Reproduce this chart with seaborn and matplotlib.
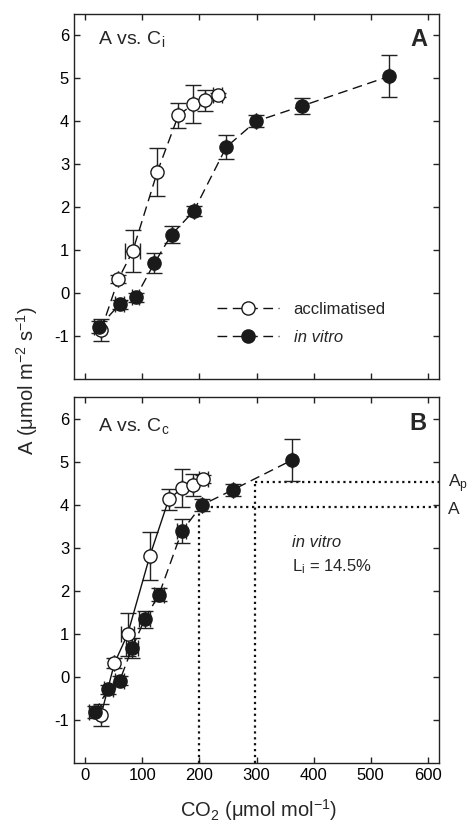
import matplotlib
matplotlib.use("Agg")
import matplotlib.pyplot as plt
import seaborn as sns
import numpy as np
import pandas as pd
from matplotlib.lines import Line2D

# ---------------- data ----------------
accl_A_x = [27.5, 58, 83, 126, 163, 189, 210, 232]
accl_A_y = [-0.86, 0.33, 0.98, 2.82, 4.14, 4.40, 4.49, 4.62]
accl_A_yerr = [0.25, 0.10, 0.49, 0.56, 0.29, 0.44, 0.24, 0.05]
accl_A_xerr = [0, 0, 13, 0, 0, 0, 0, 8]

vitro_A_x = [23, 60, 88, 121, 151, 190, 247, 299, 380, 533]
vitro_A_y = [-0.80, -0.26, -0.10, 0.70, 1.36, 1.91, 3.40, 4.00, 4.36, 5.05]
vitro_A_yerr = [0.14, 0.10, 0.10, 0.24, 0.20, 0.12, 0.28, 0.14, 0.18, 0.49]
vitro_A_xerr = [8, 8, 6, 0, 0, 0, 0, 0, 0, 0]

accl_B_x = [27.5, 51, 74, 113, 146, 170, 188, 207]
accl_B_y = [-0.88, 0.32, 0.99, 2.81, 4.12, 4.39, 4.46, 4.60]
accl_B_yerr = [0.25, 0.12, 0.50, 0.55, 0.25, 0.44, 0.25, 0.10]
accl_B_xerr = [0, 0, 12, 0, 0, 0, 0, 8]

vitro_B_x = [16, 40, 60, 82, 104, 129, 169, 204, 258, 363]
vitro_B_y = [-0.81, -0.29, -0.09, 0.67, 1.34, 1.91, 3.38, 3.99, 4.34, 5.04]
vitro_B_yerr = [0.14, 0.10, 0.10, 0.24, 0.20, 0.15, 0.28, 0.14, 0.15, 0.48]
vitro_B_xerr = [10, 8, 8, 10, 10, 8, 8, 0, 0, 0]

A_level = 3.95
Ap_level = 4.52
Cc_A = 200
Cc_Ap = 297

x_ticks = [0, 100, 200, 300, 400, 500, 600]
y_ticks = [-1, 0, 1, 2, 3, 4, 5, 6]

# ---------------- style ----------------
sns.set_style("ticks")
plt.rcParams['font.family'] = ['Liberation Sans', 'DejaVu Sans']
plt.rcParams['mathtext.fontset'] = 'custom'
plt.rcParams['mathtext.rm'] = 'Liberation Sans'
plt.rcParams['mathtext.it'] = 'Liberation Sans:italic'
plt.rcParams['mathtext.bf'] = 'Liberation Sans:bold'

fig = plt.figure(figsize=(4.71, 8.24), dpi=100)
axA = fig.add_axes([74/471, 1-379/824, 365/471, 365/824])
axB = fig.add_axes([74/471, 1-763/824, 365/471, 366/824])

DASH = (0, (7, 4))
MS = 9.5


def draw_series(ax, x, y, yerr, xerr, filled, ls, label=None):
    df = pd.DataFrame({"x": x, "y": y})
    ax.errorbar(x, y, yerr=yerr, xerr=xerr, fmt='none', ecolor='#222222',
                elinewidth=1.0, capsize=6, capthick=1.0, zorder=2)
    sns.lineplot(data=df, x="x", y="y", ax=ax, color='#111111', lw=1.0,
                 linestyle=ls, sort=False, estimator=None, zorder=3,
                 marker='o', markersize=MS,
                 markerfacecolor='#1a1a1a' if filled else 'white',
                 markeredgecolor='#1a1a1a', markeredgewidth=1.0,
                 label=label, legend=False)


draw_series(axA, accl_A_x, accl_A_y, accl_A_yerr, accl_A_xerr, False, DASH)
draw_series(axA, vitro_A_x, vitro_A_y, vitro_A_yerr, vitro_A_xerr, True, DASH)
draw_series(axB, accl_B_x, accl_B_y, accl_B_yerr, accl_B_xerr, False, '-')
draw_series(axB, vitro_B_x, vitro_B_y, vitro_B_yerr, vitro_B_xerr, True, DASH)

for ax in (axA, axB):
    ax.set_xlim(-20, 620)
    ax.set_ylim(-2, 6.5)
    ax.set_xticks(x_ticks)
    ax.set_yticks(y_ticks)
    ax.tick_params(direction='in', top=True, right=True, length=4, width=1,
                   labelsize=12, colors='#222222')
    ax.tick_params(axis='both', labelcolor='black')
    for s in ax.spines.values():
        s.set_linewidth(1.0)
        s.set_color('#222222')
    ax.set_xlabel('')
    ax.set_ylabel('')

axA.tick_params(labelbottom=False)
axB.set_xticklabels([str(t) for t in x_ticks])
axB.set_yticklabels([str(t) for t in y_ticks])
axA.set_yticklabels([str(t) for t in y_ticks])

# legend in panel A
h1 = Line2D([], [], color='#111111', lw=1.0, linestyle=DASH, marker='o',
            markersize=MS, markerfacecolor='white', markeredgecolor='#1a1a1a')
h2 = Line2D([], [], color='#111111', lw=1.0, linestyle=DASH, marker='o',
            markersize=MS, markerfacecolor='#1a1a1a', markeredgecolor='#1a1a1a')
leg = axA.legend([h1, h2], ['acclimatised', 'in vitro'], loc='upper left',
                 bbox_to_anchor=((217-74)/365, (379-302)/365), frameon=False,
                 fontsize=12, handlelength=3.7, handletextpad=0.9,
                 borderpad=0, borderaxespad=0, labelspacing=0.75)
leg.get_texts()[1].set_fontstyle('italic')

# panel texts
axA.text(0.066, 0.919, r'A vs. C$_\mathrm{i}$', transform=axA.transAxes,
         fontsize=14, ha='left', va='baseline')
axB.text(0.066, 0.908, r'A vs. C$_\mathrm{c}$', transform=axB.transAxes,
         fontsize=14, ha='left', va='baseline')
axA.text(0.967, 0.912, 'A', transform=axA.transAxes, fontsize=17,
         fontweight='bold', ha='right', va='baseline')
axB.text(0.967, 0.910, 'B', transform=axB.transAxes, fontsize=17,
         fontweight='bold', ha='right', va='baseline')

axB.text(0.597, 0.591, 'in vitro', transform=axB.transAxes, fontsize=12,
         fontstyle='italic', ha='left', va='baseline')
axB.text(0.597, 0.525, r'L$_\mathrm{i}$ = 14.5%', transform=axB.transAxes,
         fontsize=12, ha='left', va='baseline')

# dotted construction lines in panel B
axB.plot([Cc_A, Cc_A], [-2, A_level], color='#111111', lw=1.6, ls=':', zorder=1)
axB.plot([Cc_A, 620], [A_level, A_level], color='#111111', lw=1.6, ls=':', zorder=1)
axB.plot([Cc_Ap, Cc_Ap], [-2, Ap_level], color='#111111', lw=1.6, ls=':', zorder=1)
axB.plot([Cc_Ap, 620], [Ap_level, Ap_level], color='#111111', lw=1.6, ls=':', zorder=1)

trans = matplotlib.transforms.blended_transform_factory(axB.transAxes, axB.transData)
axB.text(1.024, 4.40, r'A$_\mathrm{p}$', transform=trans, fontsize=12.5,
         ha='left', va='baseline', clip_on=False)
axB.text(1.024, 3.79, 'A', transform=trans, fontsize=12.5,
         ha='left', va='baseline', clip_on=False)

fig.text(259/471, 1-817/824, r'CO$_2$ (μmol mol$^{-1}$)', fontsize=14.5,
         ha='center', va='baseline')
fig.text(27/471, 1-381/824, r'A (μmol m$^{-2}$ s$^{-1}$)', rotation=90,
         fontsize=14.5, ha='center', va='center')

fig.savefig('out.png', dpi=100)
